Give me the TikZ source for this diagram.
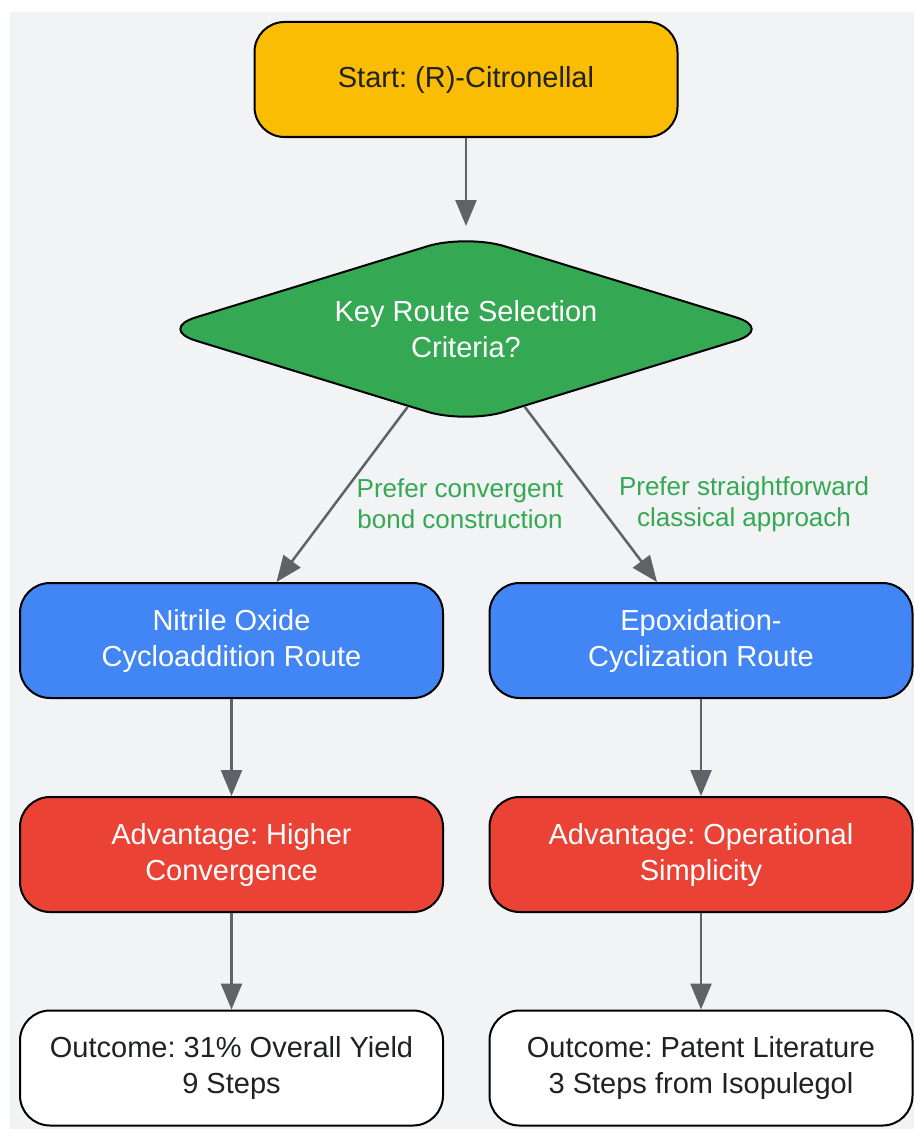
\documentclass[tikz,border=0pt]{standalone}
\usepackage{fontspec}
\setmainfont{Liberation Sans}
\frenchspacing
\usetikzlibrary{shapes.geometric,arrows.meta,calc}
\definecolor{bgc}{HTML}{F1F3F4}
\definecolor{yel}{HTML}{FBBC04}
\definecolor{grn}{HTML}{34A853}
\definecolor{blu}{HTML}{4285F4}
\definecolor{redc}{HTML}{EA4335}
\definecolor{txt}{HTML}{202124}
\definecolor{arrc}{HTML}{5F6368}
\begin{document}
\begin{tikzpicture}[x=1pt,y=-1pt,
  box/.style={draw=black,line width=2pt,rounded corners=30pt,minimum width=423pt,minimum height=115pt,inner sep=0pt,align=center,font=\fontsize{29}{36}\selectfont\frenchspacing},
  startbox/.style={box,fill=yel,text=txt},
  routebox/.style={box,fill=blu,text=white},
  advbox/.style={box,fill=redc,text=white},
  outbox/.style={box,fill=white,text=txt},
  decision/.style={diamond,aspect=3.25,draw=black,line width=2pt,rounded corners=40pt,fill=grn,text=white,minimum width=617pt,minimum height=190pt,inner sep=0pt,align=center,font=\fontsize{29}{36}\selectfont\frenchspacing},
  arr/.style={draw=arrc,line width=2.5pt,-{Triangle[length=26pt,width=21pt]}},
  elabel/.style={text=grn,align=center,font=\fontsize{26}{31}\selectfont\frenchspacing,inner sep=0pt}
]
\useasboundingbox (0,0) rectangle (914,1129);
\fill[bgc] (10,12) rectangle (914,1129);

\node[startbox] (start) at (466,79.5) {Start: (R)-Citronellal};
\node[decision] (d) at (466,329) {Key Route Selection\\Criteria?};
\node[routebox] (nit) at (231.5,640.5) {Nitrile Oxide\\Cycloaddition Route};
\node[routebox] (epo) at (701,640.5) {Epoxidation-\\Cyclization Route};
\node[advbox] (adv1) at (231.5,854.5) {Advantage: Higher\\Convergence};
\node[advbox] (adv2) at (701,854.5) {Advantage: Operational\\Simplicity};
\node[outbox] (out1) at (231.5,1068) {Outcome: 31\% Overall Yield\\9 Steps};
\node[outbox] (out2) at (701,1068) {Outcome: Patent Literature\\3 Steps from Isopulegol};

\coordinate (nitin) at ($(nit.north)+(45,0)$);
\coordinate (epoin) at ($(epo.north)+(-44,0)$);

\draw[arr,shorten >=7pt] (start) -- (d);
\draw[arr] (d) -- (nitin);
\draw[arr] (d) -- (epoin);
\draw[arr] (nit) -- (adv1);
\draw[arr] (epo) -- (adv2);
\draw[arr] (adv1) -- (out1);
\draw[arr] (adv2) -- (out2);

\node[elabel] (l1) at (460,504) {Prefer convergent\\bond construction};
\node[elabel] (l2) at (744,504) {Prefer straightforward\\classical approach};
\end{tikzpicture}
\end{document}
